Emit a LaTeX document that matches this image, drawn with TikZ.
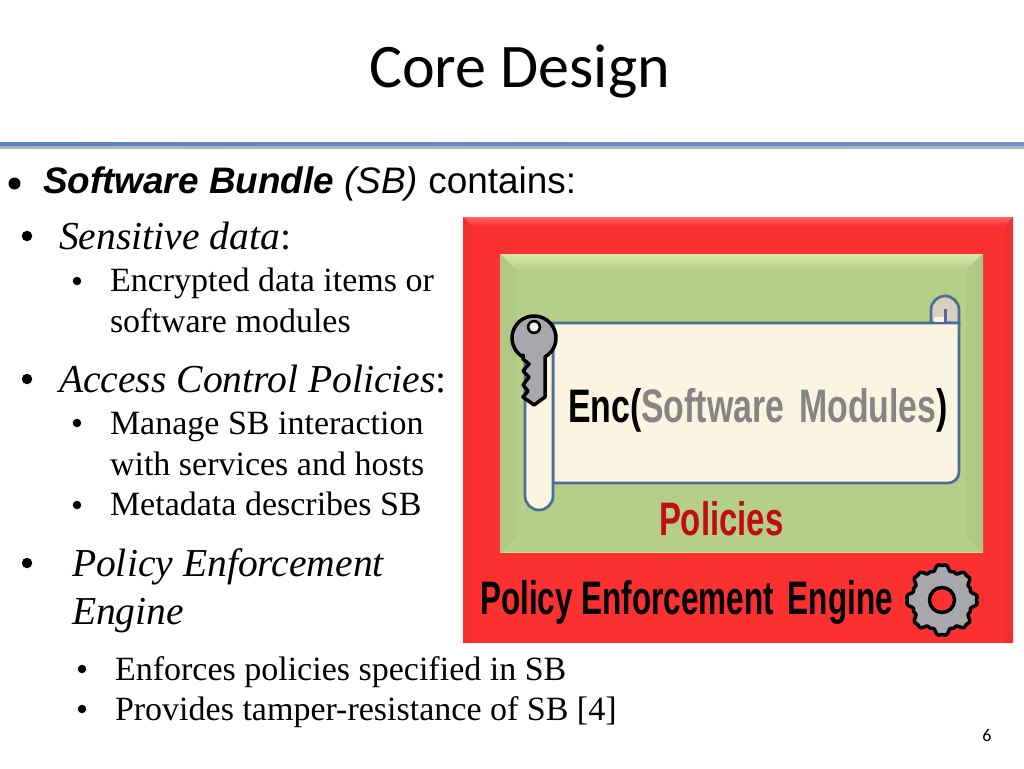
\documentclass[tikz,border=0pt]{standalone}
\usepackage{graphicx}
\usepackage{fontspec}
\setmainfont{Liberation Serif}
\newfontfamily\arialf{Liberation Sans}
\newfontfamily\calib{Carlito}
\definecolor{redm}{HTML}{FB3030}
\definecolor{redl}{HTML}{FF6464}
\definecolor{redd}{HTML}{F22E2E}
\definecolor{grn}{HTML}{B5CE88}
\definecolor{grnl}{HTML}{DDE8A8}
\definecolor{grnd}{HTML}{E0D890}
\definecolor{grns}{HTML}{AFC985}
\definecolor{scrollb}{HTML}{4A6E96}
\definecolor{paper}{HTML}{FBF4E0}
\definecolor{curl}{HTML}{D8D0C0}
\definecolor{keyg}{HTML}{A8A8AC}
\definecolor{polred}{HTML}{C00D0D}
\definecolor{swgray}{HTML}{858585}
\definecolor{rulea}{HTML}{5A85B8}
\definecolor{ruleb}{HTML}{6F93BE}
\definecolor{rulec}{HTML}{A9B4C2}
\tikzset{
  txt/.style={anchor=base west,inner sep=0pt,outer sep=0pt},
  lvl/.style={txt,font=\fontsize{39.6}{39.6}\selectfont\itshape},
  sub/.style={txt,font=\fontsize{34}{34}\selectfont},
  img/.style={anchor=base west,inner sep=0pt,outer sep=0pt,font=\arialf\bfseries\fontsize{47}{47}\selectfont},
  bulH/.style={circle,fill=black,inner sep=0pt,minimum size=12pt},
  bulA/.style={circle,fill=black,inner sep=0pt,minimum size=10.5pt},
  bulB/.style={circle,fill=black,inner sep=0pt,minimum size=8.5pt},
  scrollline/.style={draw=scrollb,line width=2.7pt,fill=paper},
}
\begin{document}
\begin{tikzpicture}[x=1pt,y=-1pt]
\useasboundingbox (0,0) rectangle (1024,768);
\fill[white] (0,0) rectangle (1024,768);
% title
\node[anchor=base,inner sep=0pt,font=\calib\fontsize{62}{62}\selectfont] (title) at (519.5,87) {Core Design};
% rule
\shade[left color=rulea,right color=ruleb] (0,142) rectangle (1024,146);
\fill[rulec] (0,146) rectangle (1024,148.5);
% heading
\node[bulH] (b0) at (14.5,183.5) {};
\node[txt,font=\arialf\fontsize{36.9}{36.9}\selectfont] (head) at (43,193)
  {{\bfseries\itshape Software Bundle} {\itshape (SB)} contains:};
% left text
\node[bulA] (b1) at (27,236) {};
\node[lvl] (t1) at (59,249) {Sensitive data{\upshape :}};
\node[bulB] (b11) at (77,281) {};
\node[sub] (t11) at (110,291) {Encrypted data items or};
\node[sub] (t12) at (110,332) {software modules};
\node[bulA] (b2) at (27,379) {};
\node[lvl] (t2) at (59,392) {Access Control Policies{\upshape :}};
\node[bulB] (b21) at (77,423) {};
\node[sub] (t21) at (110,434) {Manage SB interaction};
\node[sub] (t22) at (110,475) {with services and hosts};
\node[bulB] (b23) at (77,505) {};
\node[sub] (t23) at (110,515) {Metadata describes SB};
\node[bulA] (b3) at (27,563) {};
\node[lvl] (t3) at (72,576) {Policy Enforcement};
\node[lvl] (t3b) at (72,624) {Engine};
\node[bulB] (b31) at (82,669) {};
\node[sub] (t31) at (115,680) {Enforces policies specified in SB};
\node[bulB] (b32) at (82,709) {};
\node[sub] (t32) at (115,720) {Provides tamper-resistance of SB [4]};
\node[anchor=base,inner sep=0pt,font=\calib\fontsize{18}{18}\selectfont] (pg) at (987,741) {6};
% red box
\fill[redm] (463,217) rectangle (1013,643);
\shade[top color=redl,bottom color=redm] (463,217) -- (1013,217) -- (1005,226) -- (471,226) -- cycle;
\fill[redd] (463,217) -- (471,226) -- (471,643) -- (463,643) -- cycle;
\fill[redd] (1013,217) -- (1005,226) -- (1005,643) -- (1013,643) -- cycle;
% green box
\fill[grn] (500,254) rectangle (983,553);
\shade[top color=grnl,bottom color=grn] (500,254) -- (983,254) -- (966,270) -- (516,270) -- cycle;
\fill[grns] (500,254) -- (516,270) -- (516,537) -- (500,553) -- cycle;
\fill[grns] (983,254) -- (966,270) -- (966,537) -- (983,553) -- cycle;
\draw[grnd,line width=1.5pt] (500,552.5) -- (983,552.5);
% scroll curl
\draw[draw=scrollb,line width=2.7pt,fill=curl] (931,323) -- (931,310)
  arc[start angle=180,end angle=360,radius=14] -- (959,323) -- cycle;
\fill[curl] (933,308) rectangle (957,318);
% scroll body
\draw[scrollline] (553,323) -- (959,323) -- (959,472) arc[start angle=0,end angle=90,radius=11] -- (553,483) -- cycle;
\fill[paper] (934,317) rectangle (945,322);
\draw[scrollb,line width=2.5pt] (945.5,309) -- (945.5,323);
% scroll roll
\draw[scrollline] (525,340) -- (525,496) arc[start angle=180,end angle=0,radius=14] -- (553,340) -- cycle;
% key
\draw[black,line width=3.5pt,fill=keyg,line join=round]
  (523,355) -- (523,359) -- (529,364) -- (523,371) -- (529,377) -- (523,385) -- (528,391) -- (523,397)
  -- (534,405) -- (545,397) -- (545,357)
  arc[start angle=60,end angle=-240,radius=22] -- cycle;
\fill[black] (534,327) circle (7.2);
\fill[white!85!keyg] (534,327) circle (4.6);
% image labels
\node[img] (enc) at (568,422)
  {\scalebox{.72}[1]{Enc(\textcolor{swgray}{Software~\,Modules})}};
\node[img,text=polred] (pol) at (659,535) {\scalebox{.70}[1]{Policies}};
\node[img] (pee) at (480,614) {\scalebox{.67}[1]{Policy Enforcement~\,Engine}};
% gear
\draw[black,line width=3.5pt,fill=keyg,line join=round]
  plot[domain=0:360,samples=145,smooth cycle] ({942+(32.5+3*(cos(8*\x)-cos(24*\x)/3))*cos(\x)},{600+(32.5+3*(cos(8*\x)-cos(24*\x)/3))*sin(\x)});
\draw[black,line width=3.5pt,fill=redm] (942,600) circle (12.5);
\end{tikzpicture}
\end{document}
